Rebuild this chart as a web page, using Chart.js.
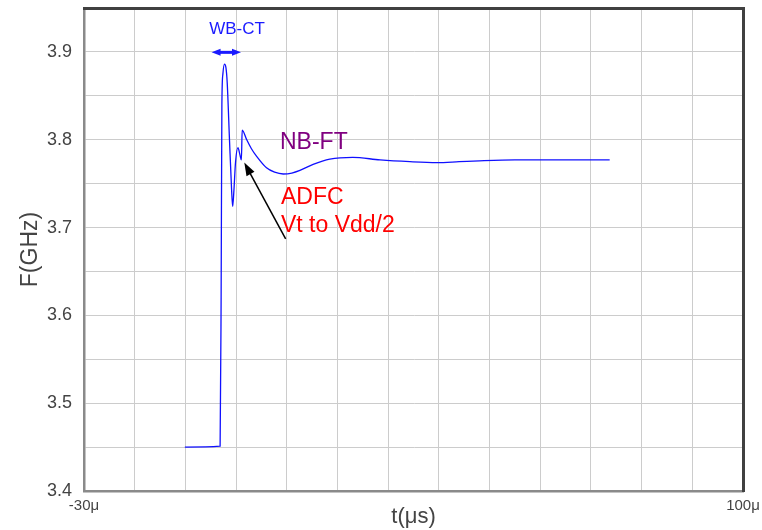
<!DOCTYPE html>
<html><head><meta charset="utf-8">
<script src="https://cdn.jsdelivr.net/npm/chart.js@4.4.0/dist/chart.umd.min.js"></script>
<style>html,body{margin:0;padding:0;background:#fff;overflow:hidden}</style>
</head><body>
<canvas id="c" width="762" height="530"></canvas>
<script>
// ---- data (time in µs, frequency in GHz) ----
const timeUs = [-10.1, -3.15, -2.95, -2.8, -2.6, -2.3, -2.0, -1.75, -1.3, -0.9, -0.67, -0.45, -0.1, 0.37, 0.75, 1.05, 1.2, 2.1, 3.0, 4.06, 6.0, 7.6, 9.3, 11, 12.6, 15.2, 18.5, 23, 28.4, 34.3, 39.6, 44, 48, 55, 73.7];
const freqGHz = [3.450, 3.451, 3.62, 3.84, 3.875, 3.886, 3.882, 3.865, 3.80, 3.745, 3.724, 3.74, 3.775, 3.791, 3.783, 3.777, 3.811, 3.800, 3.790, 3.781, 3.768, 3.763, 3.761, 3.762, 3.765, 3.772, 3.778, 3.780, 3.777, 3.775, 3.774, 3.775, 3.776, 3.777, 3.777];
const xTickLabels = { '-30': '-30\u03bc', '100': '100\u03bc' };
const yTickLabels = ['3.4', '3.5', '3.6', '3.7', '3.8', '3.9'];

const FONT = "'Liberation Sans', Arial, Helvetica, sans-serif";
Chart.defaults.font.family = FONT;

function arrowHead(ctx, x1, y1, x2, y2, len, half) {
  const a = Math.atan2(y2 - y1, x2 - x1);
  ctx.beginPath();
  ctx.moveTo(x2, y2);
  ctx.lineTo(x2 - len * Math.cos(a) + half * Math.sin(a), y2 - len * Math.sin(a) - half * Math.cos(a));
  ctx.lineTo(x2 - len * Math.cos(a) - half * Math.sin(a), y2 - len * Math.sin(a) + half * Math.cos(a));
  ctx.closePath();
  ctx.fill();
}

const annot = {
  id: 'annot',
  afterDatasetsDraw(chart) {
    const { ctx, chartArea: ca, scales: { x, y } } = chart;
    const X = v => x.getPixelForValue(v), Y = v => y.getPixelForValue(v);
    ctx.save();
    // frame top and right
    ctx.strokeStyle = '#404040';
    ctx.lineWidth = 3;
    ctx.beginPath();
    ctx.moveTo(ca.left - 1, ca.top + 0.5);
    ctx.lineTo(ca.right + 2, ca.top + 0.5);
    ctx.moveTo(ca.right + 0.5, ca.top);
    ctx.lineTo(ca.right + 0.5, ca.bottom + 1);
    ctx.stroke();

    // WB-CT
    ctx.fillStyle = '#1a1aff';
    ctx.strokeStyle = '#1a1aff';
    ctx.font = '17px ' + FONT;
    ctx.textAlign = 'center';
    ctx.textBaseline = 'alphabetic';
    ctx.fillText('WB-CT', X(0.2), Y(3.920));
    const ax1 = X(-4.83), ax2 = X(0.97), ay = Y(3.8995), am = X(-1.9);
    ctx.lineWidth = 3;
    ctx.beginPath(); ctx.moveTo(ax1 + 5, ay); ctx.lineTo(ax2 - 5, ay); ctx.stroke();
    arrowHead(ctx, am, ay, ax1, ay, 9, 3.5);
    arrowHead(ctx, am, ay, ax2, ay, 9, 3.5);

    // NB-FT
    ctx.textAlign = 'left';
    ctx.fillStyle = '#800080';
    ctx.font = '23px ' + FONT;
    ctx.fillText('NB-FT', X(8.66), Y(3.7894));

    // ADFC
    ctx.fillStyle = '#ff0000';
    ctx.fillText('ADFC', X(8.86), Y(3.727));
    ctx.fillText('Vt to Vdd/2', X(8.86), Y(3.6947));

    // black arrow
    const tx = X(9.78), ty = Y(3.687), hx = X(1.62), hy = Y(3.774);
    ctx.strokeStyle = '#000';
    ctx.fillStyle = '#000';
    ctx.lineWidth = 1.5;
    ctx.beginPath(); ctx.moveTo(tx, ty);
    const a = Math.atan2(hy - ty, hx - tx);
    ctx.lineTo(hx - 8 * Math.cos(a), hy - 8 * Math.sin(a)); ctx.stroke();
    arrowHead(ctx, tx, ty, hx, hy, 13, 4.5);
    ctx.restore();
  }
};

new Chart(document.getElementById('c'), {
  type: 'line',
  data: {
    datasets: [{
      data: timeUs.map((t, i) => ({ x: t, y: freqGHz[i] })),
      borderColor: '#1010ff',
      borderWidth: 1.3,
      pointRadius: 0,
      fill: false,
      cubicInterpolationMode: 'monotone'
    }]
  },
  options: {
    responsive: false,
    animation: false,
    devicePixelRatio: 1,
    layout: { padding: { left: 0, top: 8, right: 19, bottom: 0 } },
    plugins: { legend: { display: false }, tooltip: { enabled: false } },
    scales: {
      x: {
        type: 'linear', min: -30, max: 100,
        ticks: {
          stepSize: 10, autoSkip: false, maxRotation: 0, padding: 6,
          color: '#444', font: { size: 15 },
          callback: v => xTickLabels[String(Math.round(v))] || ''
        },
        grid: { color: '#cccccc', lineWidth: 1, drawTicks: false },
        border: { color: '#8a8a8a', width: 2.5 },
        title: { display: true, text: 't(\u03bcs)', color: '#444', font: { size: 22 }, padding: { top: 0, bottom: 0 } },
        afterFit: s => { s.height = 39; s.paddingLeft = 0; s.paddingRight = 0; }
      },
      y: {
        type: 'linear', min: 3.4, max: 3.95,
        ticks: {
          stepSize: 0.05, autoSkip: false, padding: 12,
          color: '#444', font: { size: 18 },
          callback: v => { const s = v.toFixed(2); return s.endsWith('0') && yTickLabels.includes(v.toFixed(1)) ? v.toFixed(1) : ''; }
        },
        grid: { color: '#cccccc', lineWidth: 1, drawTicks: false },
        border: { color: '#8a8a8a', width: 2.5 },
        title: { display: true, text: 'F(GHz)', color: '#444', font: { size: 23 }, padding: { top: 17, bottom: 0 } },
        afterFit: s => { s.width = 84; s.paddingTop = 0; s.paddingBottom = 0; }
      }
    }
  },
  plugins: [annot]
});
</script>
</body></html>
